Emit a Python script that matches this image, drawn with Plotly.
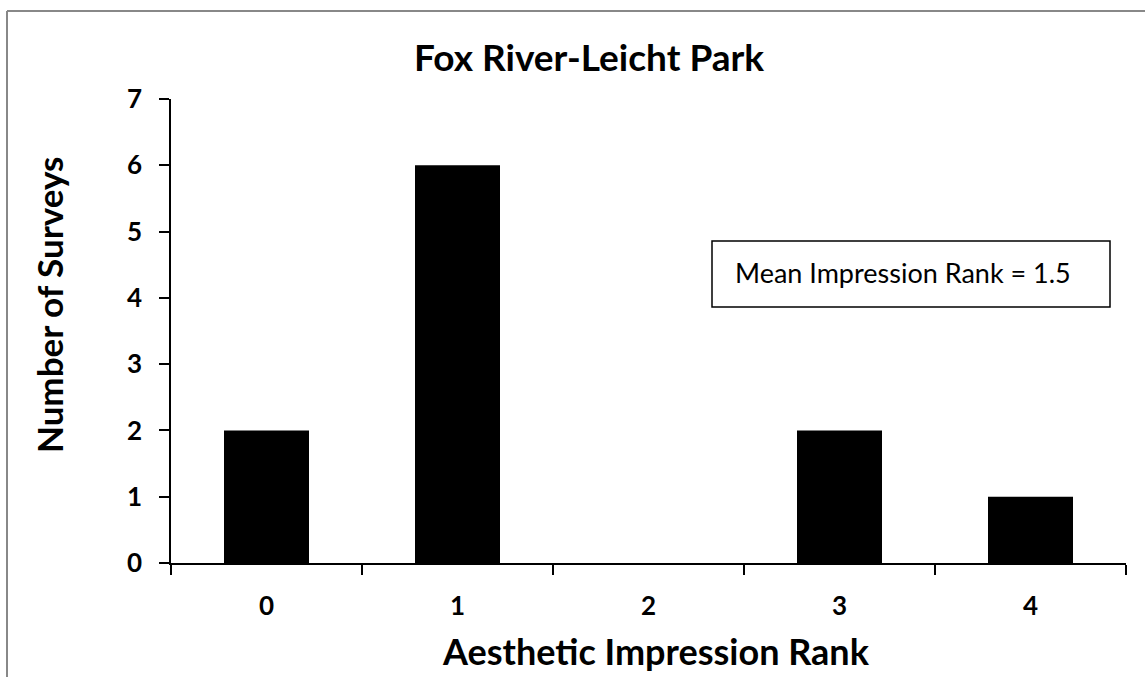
import plotly.graph_objects as go

# Data
categories = ["0", "1", "2", "3", "4"]
counts = [2, 6, 0, 2, 1]
y_ticks = [0, 1, 2, 3, 4, 5, 6, 7]
title_text = "Fox River-Leicht Park"
x_title = "Aesthetic Impression Rank"
y_title = "Number of Surveys"
note_text = "Mean Impression Rank = 1.5"

W, H = 1145, 677
L, R, T, B = 171, 19, 99, 114
PW, PH = W - L - R, H - T - B

def px(x):
    return (x - L) / PW

def py(y):
    return (H - B - y) / PH

FONT = "Lato, Carlito, Calibri, sans-serif"

fig = go.Figure()
fig.add_trace(go.Bar(
    x=categories, y=counts,
    marker=dict(color="black", line=dict(color="black", width=0)),
    showlegend=False,
))

fig.update_layout(
    width=W, height=H,
    margin=dict(l=L, r=R, t=T, b=B),
    paper_bgcolor="white", plot_bgcolor="white",
    bargap=0.555,
    font=dict(family=FONT, color="black"),
    xaxis=dict(
        type="category",
        tickson="boundaries",
        ticks="outside", ticklen=10, tickwidth=1.5, tickcolor="black",
        showline=True, linecolor="black", linewidth=1.5,
        showgrid=False, zeroline=False,
        tickfont=dict(family=FONT, size=26, color="black", weight="bold"),
        ticklabelstandoff=19,
    ),
    yaxis=dict(
        range=[0, 7],
        tickvals=y_ticks,
        ticks="outside", ticklen=10, tickwidth=1.5, tickcolor="black",
        showline=True, linecolor="black", linewidth=1.5,
        showgrid=False, zeroline=False,
        tickfont=dict(family=FONT, size=26, color="black", weight="bold"),
        ticklabelstandoff=12,
    ),
)

# Title and axis titles as annotations
fig.add_annotation(
    text=title_text, xref="paper", yref="paper",
    x=px(589), y=py(56), xanchor="center", yanchor="middle",
    showarrow=False,
    font=dict(family=FONT, size=37, color="black", weight="bold"),
)
fig.add_annotation(
    text=x_title, xref="paper", yref="paper",
    x=px(656), y=py(651), xanchor="center", yanchor="middle",
    showarrow=False,
    font=dict(family=FONT, size=36, color="black", weight="bold"),
)
fig.add_annotation(
    text=y_title, xref="paper", yref="paper",
    x=px(49), y=py(305), xanchor="center", yanchor="middle",
    textangle=-90, showarrow=False,
    font=dict(family=FONT, size=35, color="black", weight="bold"),
)

# Mean box
fig.add_shape(
    type="rect", xref="paper", yref="paper",
    x0=px(712), x1=px(1110), y0=py(307), y1=py(241),
    line=dict(color="black", width=1.5), fillcolor="white", layer="above",
)
fig.add_annotation(
    text=note_text, xref="paper", yref="paper",
    x=px(733), y=py(272), xanchor="left", yanchor="middle",
    showarrow=False,
    font=dict(family=FONT, size=27, color="black"),
)

# Outer chart border (top and left visible)
fig.add_shape(
    type="line", xref="paper", yref="paper",
    x0=px(7), x1=px(1200), y0=py(11), y1=py(11),
    line=dict(color="#888888", width=2),
)
fig.add_shape(
    type="line", xref="paper", yref="paper",
    x0=px(7), x1=px(7), y0=py(11), y1=py(720),
    line=dict(color="#888888", width=2),
)

fig.write_html(
    "out.html",
    config={"displayModeBar": False},
    post_script="document.body.style.margin='0';document.body.style.overflow='hidden';",
)
